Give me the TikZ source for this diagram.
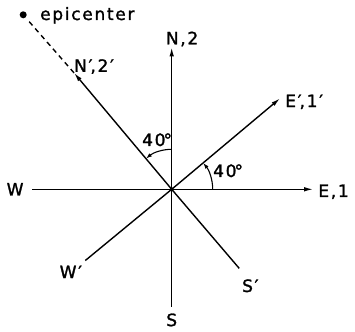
\documentclass[tikz,border=0pt]{standalone}
\usepackage{fontspec}
\newfontfamily\labelfont[LetterSpace=10, FakeBold=1.5]{DejaVu Sans}
\usetikzlibrary{arrows.meta}

\begin{document}
\begin{tikzpicture}[
    x=1pt, y=1pt,
    axis/.style={line width=1.4pt},
    arrow/.style={line width=1.4pt, -{Latex[length=9pt, width=4.5pt]}},
    angle/.style={line width=1.1pt, -{Latex[length=6pt, width=4pt]}},
    lbl/.style={font=\labelfont\fontsize{17}{19}\selectfont, inner sep=0pt}
]
\useasboundingbox (-171.7,-141.7) rectangle (183.3,189.3);

% Origin and ends of the axes
\coordinate (O) at (0,0);
\coordinate (Ntip) at (90:142);
\coordinate (Etip) at (0:141.5);
\coordinate (Wend) at (180:140);
\coordinate (Send) at (270:118);
\coordinate (Nptip) at (130:152);
\coordinate (Eptip) at (40:141.5);
\coordinate (Wpend) at (219.5:112);
\coordinate (Spend) at (310.5:104);

% Epicenter
\node[circle, fill, inner sep=0pt, minimum size=7pt] (epi) at (-148.5,174.5) {};
\node[lbl, anchor=base west] (epilbl) at (-131.7,169.3) {epicenter};
\draw[line width=1.4pt, dash pattern=on 5pt off 4pt, shorten >=4pt] (Nptip) -- (epi);

% Axes, fixed and rotated
\draw[arrow] (O) -- (Ntip);
\draw[arrow] (O) -- (Etip);
\draw[arrow] (O) -- (Nptip);
\draw[arrow] (O) -- (Eptip);
\draw[axis] (O) -- (Wend);
\draw[axis] (O) -- (Send);
\draw[axis] (O) -- (Wpend);
\draw[axis] (O) -- (Spend);
\fill (O) circle (2pt);

% Axis labels
\node[lbl, anchor=base west] (nlbl) at ([xshift=-6pt,yshift=3pt]Ntip) {N,2};
\node[lbl, anchor=base west] (elbl) at ([xshift=5pt,yshift=-7.7pt]Etip) {E,1};
\node[lbl, anchor=east] (wlbl) at ([xshift=-8pt]Wend) {W};
\node[lbl, anchor=north] (slbl) at ([yshift=-6pt]Send) {S};
\node[lbl, anchor=base west] (nplbl) at ([yshift=1pt]Nptip) {N′\kern-2pt,2′};
\node[lbl, anchor=base west] (eplbl) at ([xshift=5pt,yshift=-8.7pt]Eptip) {E′\kern-2pt,1′};
\node[lbl, anchor=base east] (wplbl) at ([xshift=-3pt,yshift=-17.5pt]Wpend) {W′};
\node[lbl, anchor=base west] (splbl) at ([xshift=2.7pt,yshift=-23.6pt]Spend) {S′};

% Rotation angles
\draw[angle] (90:40) arc[start angle=90, end angle=130, radius=40];
\draw[angle] (0:41) arc[start angle=0, end angle=40, radius=41];
\node[lbl, anchor=base west] (anglen) at (-29.7,43.3) {40\kern-2pt°};
\node[lbl, anchor=base west] (anglee) at (41.3,12.3) {40\kern-2pt°};

\end{tikzpicture}
\end{document}
